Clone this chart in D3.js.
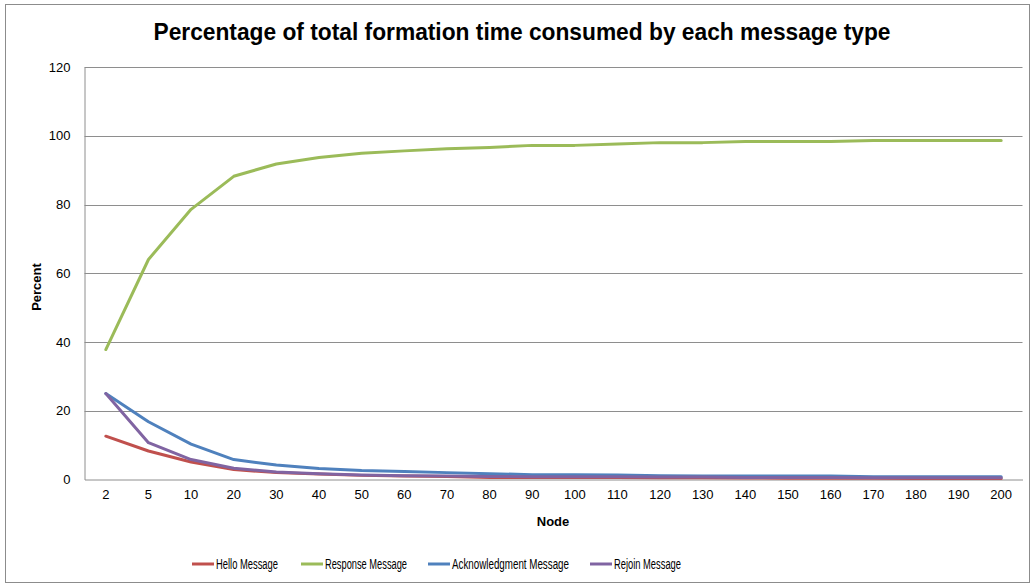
<!DOCTYPE html>
<html>
<head>
<meta charset="utf-8">
<script src="https://cdn.jsdelivr.net/npm/d3@7"></script>
<style>
  html, body { margin: 0; padding: 0; background: #fff; }
  svg { display: block; font-family: "Liberation Sans", Arial, sans-serif; }
</style>
</head>
<body>
<svg id="chart" width="1032" height="584"></svg>
<script>
// Node counts on the x axis
const nodes = [2, 5, 10, 20, 30, 40, 50, 60, 70, 80, 90, 100, 110, 120, 130, 140, 150, 160, 170, 180, 190, 200];

// Share of total formation time (%) per message type
const hello    = [12.6, 8.3, 5.1, 2.9, 2.0, 1.6, 1.2, 1.0, 0.9, 0.6, 0.6, 0.6, 0.6, 0.5, 0.5, 0.4, 0.4, 0.4, 0.4, 0.3, 0.3, 0.3];
const response = [37.8, 64.0, 78.6, 88.2, 91.8, 93.7, 94.9, 95.6, 96.2, 96.6, 97.2, 97.2, 97.6, 98.0, 98.0, 98.3, 98.3, 98.3, 98.6, 98.6, 98.6, 98.6];
const ack      = [25.0, 16.8, 10.3, 5.8, 4.2, 3.2, 2.6, 2.3, 2.0, 1.7, 1.4, 1.4, 1.3, 1.1, 1.0, 1.0, 1.0, 1.0, 0.8, 0.8, 0.8, 0.8];
const rejoin   = [25.0, 10.7, 5.8, 3.3, 2.2, 1.7, 1.3, 1.1, 1.0, 0.9, 0.8, 0.8, 0.8, 0.7, 0.7, 0.6, 0.6, 0.6, 0.5, 0.5, 0.5, 0.5];

const yTicks = [0, 20, 40, 60, 80, 100, 120];

const series = [
  { name: "Hello Message",          values: hello,    color: "#C0504D" },
  { name: "Response Message",       values: response, color: "#9BBB59" },
  { name: "Acknowledgment Message", values: ack,      color: "#4F81BD" },
  { name: "Rejoin Message",         values: rejoin,   color: "#8064A2" }
];

const svg = d3.select("#chart");
const W = 1032, H = 584;
const plot = { left: 84.5, top: 67, right: 1022.5, bottom: 479.5 };

// outer chart frame
svg.append("rect")
  .attr("x", 5.5).attr("y", 4.5).attr("width", W - 8).attr("height", H - 6)
  .attr("fill", "#fff").attr("stroke", "#8c8c8c").attr("stroke-width", 1);

const x = d3.scaleBand().domain(nodes).range([plot.left, plot.right]).padding(0);
const y = d3.scaleLinear().domain([0, 120]).range([plot.bottom, plot.top]);

// horizontal gridlines
svg.append("g").selectAll("line")
  .data(yTicks.filter(d => d > 0))
  .join("line")
  .attr("x1", plot.left).attr("x2", plot.right)
  .attr("y1", d => Math.round(y(d)) + 0.5).attr("y2", d => Math.round(y(d)) + 0.5)
  .attr("stroke", "#8e8e8e").attr("stroke-width", 1);

// y axis
const yAxis = d3.axisLeft(y).tickValues(yTicks).tickSize(0).tickPadding(14);
const gy = svg.append("g").attr("transform", `translate(${plot.left},0)`).call(yAxis);
gy.select(".domain").attr("stroke", "#8e8e8e");
gy.selectAll("text").attr("font-size", 13).attr("fill", "#000")
  .attr("font-family", "'Liberation Sans', Arial, sans-serif");

// x axis
const xAxis = d3.axisBottom(x).tickSize(0).tickPadding(10);
const gx = svg.append("g").attr("transform", `translate(0,${plot.bottom})`).call(xAxis);
gx.select(".domain").attr("stroke", "#8e8e8e");
gx.selectAll("text").attr("font-size", 13).attr("fill", "#000")
  .attr("font-family", "'Liberation Sans', Arial, sans-serif");

// lines
const line = d3.line()
  .x((d, i) => x(nodes[i]) + x.bandwidth() / 2)
  .y(d => y(d));

svg.append("g").selectAll("path")
  .data(series)
  .join("path")
  .attr("d", s => line(s.values))
  .attr("fill", "none")
  .attr("stroke", s => s.color)
  .attr("stroke-width", 3)
  .attr("stroke-linejoin", "round")
  .attr("stroke-linecap", "round");

// title
svg.append("text")
  .attr("x", 522).attr("y", 40)
  .attr("text-anchor", "middle")
  .attr("font-size", 24).attr("font-weight", "bold")
  .attr("textLength", 737).attr("lengthAdjust", "spacingAndGlyphs")
  .text("Percentage of total formation time consumed by each message type");

// axis titles
svg.append("text")
  .attr("transform", "translate(41,287) rotate(-90)")
  .attr("text-anchor", "middle")
  .attr("font-size", 13).attr("font-weight", "bold")
  .text("Percent");

svg.append("text")
  .attr("x", 553).attr("y", 526)
  .attr("text-anchor", "middle")
  .attr("font-size", 13).attr("font-weight", "bold")
  .text("Node");

// legend: swatch start and label width for each entry
const legendX = [192, 301, 428, 590];
const legendW = [62, 82, 117, 67];
const lg = svg.append("g").selectAll("g")
  .data(series)
  .join("g")
  .attr("transform", (d, i) => `translate(${legendX[i]},564)`);
lg.append("line")
  .attr("x1", 0).attr("x2", 22).attr("y1", 0).attr("y2", 0)
  .attr("stroke", d => d.color).attr("stroke-width", 3);
lg.append("text")
  .attr("x", 24).attr("y", 5)
  .attr("font-size", 14)
  .attr("textLength", (d, i) => legendW[i])
  .attr("lengthAdjust", "spacingAndGlyphs")
  .text(d => d.name);
</script>
</body>
</html>
